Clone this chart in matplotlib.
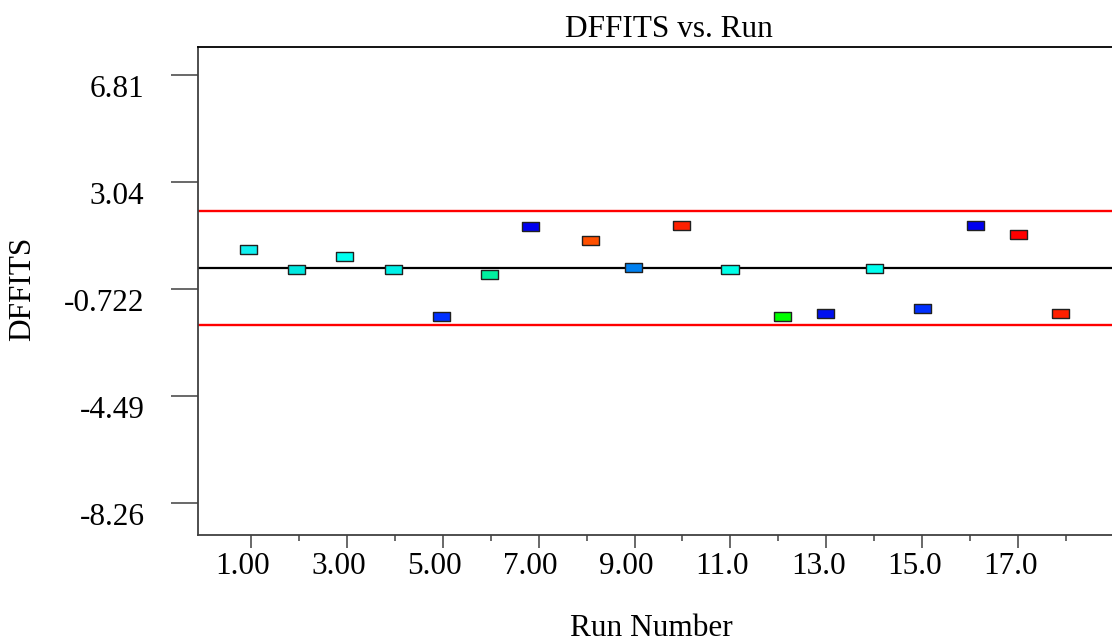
import matplotlib
matplotlib.use("Agg")
import matplotlib.pyplot as plt
from matplotlib.transforms import ScaledTranslation

# values
runs = [0.95, 1.96, 2.96, 3.97, 4.97, 5.97, 6.83, 8.08, 8.98, 9.98,
        10.99, 12.09, 12.99, 14.0, 15.0, 16.1, 17.0, 17.88]
dffits = [0.651, -0.039, 0.404, -0.039, -1.693, -0.215, 1.485, 0.985, 0.014,
          1.503, -0.029, -1.701, -1.602, -0.018, -1.401, 1.510, 1.203, -1.602]
point_colors = ["#10F0F0", "#00E8E0", "#00FFF0", "#00F0E8", "#0030FF", "#00F0A0",
                "#0000F0", "#FF5000", "#0080F0", "#FF2000", "#00FFE8", "#00FF00",
                "#0010F0", "#00FFF0", "#0030FF", "#0000F0", "#FF0000", "#FF2000"]
limit_upper = 2.0
limit_lower = -2.0
center = 0.0
y_ticks = [-8.26, -4.49, -0.722, 3.04, 6.81]
y_tick_labels = ["-8.26", "-4.49", "-0.722", "3.04", "6.81"]
x_major = [1, 3, 5, 7, 9, 11, 13, 15, 17]
x_major_labels = ["1.00", "3.00", "5.00", "7.00", "9.00", "11.0", "13.0", "15.0", "17.0"]
x_minor = [2, 4, 6, 8, 10, 12, 14, 16, 18]

plt.rcParams["font.family"] = ["Liberation Serif", "DejaVu Serif"]
FS = 22.5
DARK = "#404040"

fig = plt.figure(figsize=(11.12, 6.44), dpi=100)
ax = fig.add_axes([0.178, 0.170, 0.847, 0.7564])

ax.axhline(limit_upper, color="#FF0000", linewidth=1.7, zorder=2)
ax.axhline(limit_lower, color="#FF0000", linewidth=1.7, zorder=2)
ax.axhline(center, color="black", linewidth=1.6, zorder=2)

rect = [(-1, -0.53), (1, -0.53), (1, 0.53), (-1, 0.53), (-1, -0.53)]
ax.scatter(runs, dffits, marker=rect, s=150, c=point_colors,
           edgecolors="#202020", linewidths=1.0, zorder=3)

ax.set_xlim(-0.098, 19.53)
ax.set_ylim(-9.37, 7.775)

ax.set_xticks(x_major)
ax.set_xticklabels(x_major_labels, fontsize=FS)
ax.set_xticks(x_minor, minor=True)
ax.set_yticks(y_ticks)
ax.set_yticklabels(y_tick_labels, fontsize=FS)

ax.tick_params(axis="x", which="major", direction="out", length=9.5, width=1.1,
               color=DARK, pad=3)
ax.tick_params(axis="x", which="minor", direction="out", length=4.5, width=1.1,
               color=DARK)
ax.tick_params(axis="y", which="major", direction="out", length=19.5, width=1.1,
               color=DARK, pad=19)

for tick in ax.xaxis.get_major_ticks():
    tick.label1.set_transform(tick.label1.get_transform()
                              + ScaledTranslation(-0.08, 0, fig.dpi_scale_trans))
for tick in ax.yaxis.get_major_ticks():
    tick.label1.set_transform(tick.label1.get_transform()
                              + ScaledTranslation(0, -0.11, fig.dpi_scale_trans))

for side in ["left", "bottom"]:
    ax.spines[side].set_color(DARK)
    ax.spines[side].set_linewidth(1.3)
ax.spines["top"].set_color("black")
ax.spines["top"].set_linewidth(1.3)
ax.spines["right"].set_visible(False)

fig.text(669 / 1112, (644 - 37) / 644, "DFFITS vs. Run", fontsize=FS,
         ha="center", va="baseline")
fig.text(651 / 1112, (644 - 636) / 644, "Run Number", fontsize=FS,
         ha="center", va="baseline")
fig.text(23 / 1112, (644 - 289) / 644, "DFFITS", fontsize=FS, rotation=90,
         ha="center", va="center")

fig.savefig("out.png", dpi=100)
plt.close(fig)
